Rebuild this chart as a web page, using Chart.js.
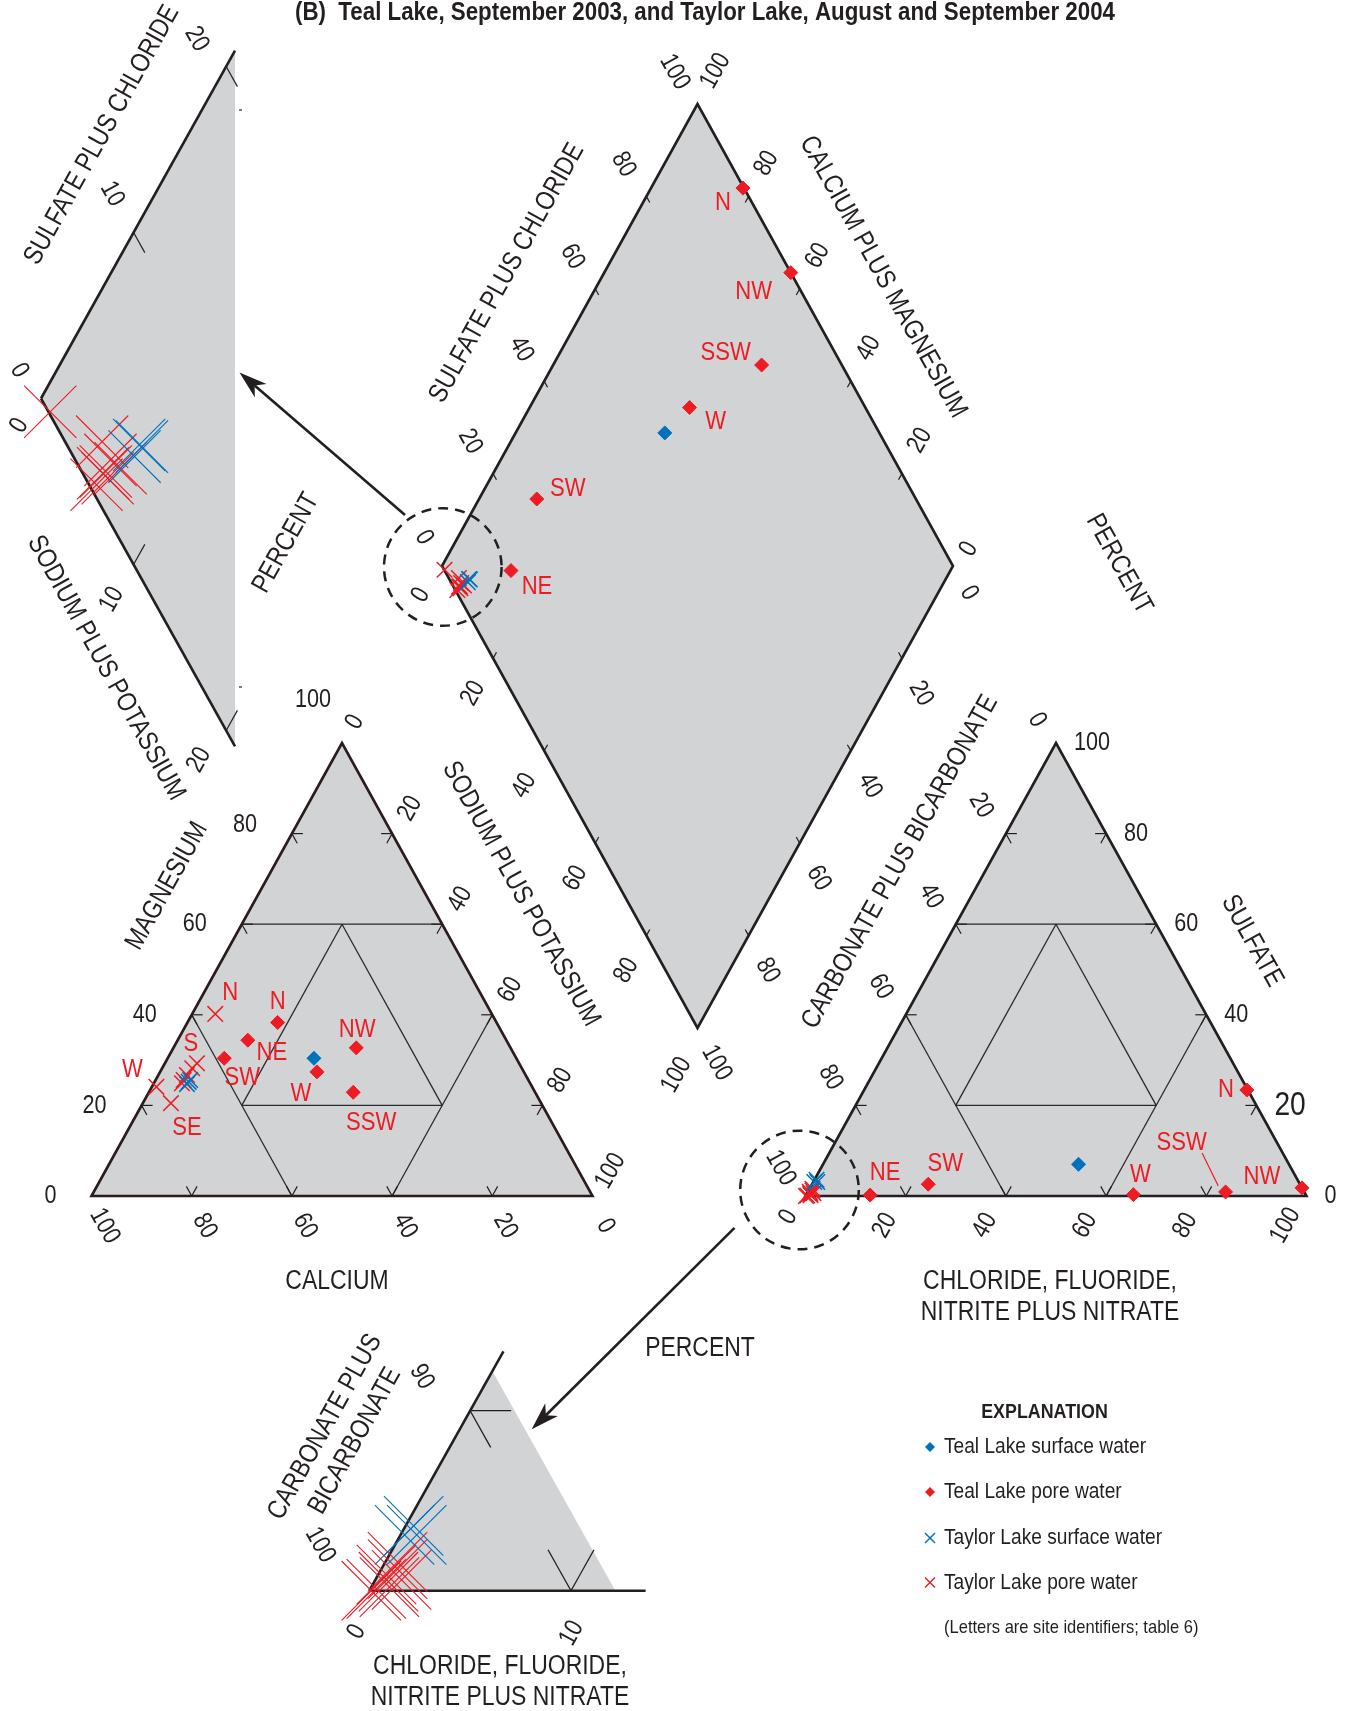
<!DOCTYPE html>
<html>
<head>
<meta charset="utf-8">
<title>Piper diagram — Teal Lake and Taylor Lake</title>
<script src="https://cdn.jsdelivr.net/npm/chart.js@4.4.1/dist/chart.umd.min.js"></script>
<style>
  html, body { margin: 0; padding: 0; background: #ffffff; }
  #wrap { width: 1350px; height: 1711px; position: relative; }
</style>
</head>
<body>
<div id="wrap"><canvas id="piper" width="1350" height="1711"></canvas></div>
<script>
// ---------------------------------------------------------------------------
// Major-ion composition, percent of total milliequivalents per liter
// ---------------------------------------------------------------------------

// Teal Lake pore water, September 2003
const tealPoreSites = ['N', 'NE', 'SW', 'W', 'NW', 'SSW'];
const tealPoreCa  = [43.7, 51.6, 58.3, 41.3, 30.8, 36.3];
const tealPoreMg  = [38.3, 34.4, 30.4, 27.4, 32.7, 22.9];
const tealPoreNaK = [18.0, 14.0, 11.3, 31.3, 36.5, 40.8];
const tealPoreCO3 = [0.2, 87.0, 74.2, 34.4, 0.0, 15.7];
const tealPoreSO4 = [23.4, 0.2, 2.6, 0.3, 1.8, 0.9];
const tealPoreCl  = [76.4, 12.8, 23.2, 65.3, 98.2, 83.4];

// Teal Lake surface water, September 2003
const tealSurfSites = [''];
const tealSurfCa  = [40.4];
const tealSurfMg  = [30.4];
const tealSurfNaK = [29.2];
const tealSurfCO3 = [42.0];
const tealSurfSO4 = [7.0];
const tealSurfCl  = [51.0];

// Taylor Lake pore water, August and September 2004
const taylorPoreSites = ['N', 'S', 'S', 'S', 'S', 'S', 'W', 'SE'];
const taylorPoreCa  = [55.2, 64.3, 65.8, 67.6, 68.8, 69.5, 75.0, 73.9];
const taylorPoreMg  = [40.2, 29.3, 28.2, 26.7, 25.6, 24.9, 24.1, 20.5];
const taylorPoreNaK = [4.6, 6.4, 6.0, 5.7, 5.6, 5.6, 0.9, 5.6];
const taylorPoreCO3 = [98.0, 97.8, 98.8, 98.7, 98.9, 99.6, 99.9, 98.1];
const taylorPoreSO4 = [1.2, 1.6, 0.5, 0.9, 0.2, 0.1, 0.0, 0.6];
const taylorPoreCl  = [0.8, 0.6, 0.7, 0.4, 0.9, 0.3, 0.1, 1.3];

// Taylor Lake surface water, August and September 2004
const taylorSurfSites = ['', '', ''];
const taylorSurfCa  = [68.0, 68.6, 67.5];
const taylorSurfMg  = [25.2, 24.7, 25.6];
const taylorSurfNaK = [6.8, 6.7, 6.9];
const taylorSurfCO3 = [96.7, 96.1, 96.0];
const taylorSurfSO4 = [3.1, 3.1, 3.6];
const taylorSurfCl  = [0.2, 0.8, 0.4];

// Tick values along every percent axis
const pctTicks = [0, 20, 40, 60, 80, 100];

// ---------------------------------------------------------------------------
// Layout of the diagram (drawing units = canvas pixels)
// ---------------------------------------------------------------------------
const INK = '#231F20', GREY = '#D1D3D4', RED = '#ED1C24', BLUE = '#0072BC';
const FONT = '"Liberation Sans", Arimo, Arial, sans-serif';
const BASE_Y = 1196, TRI_S = 501, TRI_H = 453;
const CAT = { x: 91.5, y: BASE_Y };                 // calcium corner of cation triangle
const AN  = { x: 805.5, y: BASE_Y };                // carbonate corner of anion triangle
const DIA = { x: 442, y: 566, hw: 255.5, hh: 462 }; // left corner of the diamond
const ZA  = { x: 41, y: 398.5, dx: 9.26, dy: 16.6, xmax: 235 };  // enlarged diamond corner
const ZB  = { x: 369.3, y: 1590.7, dx: 20.17, dy: 18.0 };         // enlarged anion corner

const catXY = (ca, mg, na) => ({ x: CAT.x + TRI_S * (na + mg / 2) / 100, y: CAT.y - TRI_H * mg / 100 });
const anXY  = (co3, so4, cl) => ({ x: AN.x + TRI_S * (cl + so4 / 2) / 100, y: AN.y - TRI_H * so4 / 100 });
const diaXY = (a, n) => ({ x: DIA.x + DIA.hw * (a + n) / 100, y: DIA.y + DIA.hh * (n - a) / 100 });
const zaXY  = (a, n) => ({ x: ZA.x + ZA.dx * (a + n), y: ZA.y + ZA.dy * (n - a) });
const zbXY  = (co3, so4, cl) => ({ x: ZB.x + ZB.dx * (cl + so4 / 2), y: ZB.y - ZB.dy * so4 });

const groups = {
  tealPore:   { sites: tealPoreSites, ca: tealPoreCa, mg: tealPoreMg, na: tealPoreNaK, co3: tealPoreCO3, so4: tealPoreSO4, cl: tealPoreCl },
  tealSurf:   { sites: tealSurfSites, ca: tealSurfCa, mg: tealSurfMg, na: tealSurfNaK, co3: tealSurfCO3, so4: tealSurfSO4, cl: tealSurfCl },
  taylorSurf: { sites: taylorSurfSites, ca: taylorSurfCa, mg: taylorSurfMg, na: taylorSurfNaK, co3: taylorSurfCO3, so4: taylorSurfSO4, cl: taylorSurfCl },
  taylorPore: { sites: taylorPoreSites, ca: taylorPoreCa, mg: taylorPoreMg, na: taylorPoreNaK, co3: taylorPoreCO3, so4: taylorPoreSO4, cl: taylorPoreCl }
};
const proj = {
  cat: (g, i) => catXY(g.ca[i], g.mg[i], g.na[i]),
  an:  (g, i) => anXY(g.co3[i], g.so4[i], g.cl[i]),
  dia: (g, i) => diaXY(g.so4[i] + g.cl[i], g.na[i]),
  za:  (g, i) => zaXY(g.so4[i] + g.cl[i], g.na[i]),
  zb:  (g, i) => zbXY(g.co3[i], g.so4[i], g.cl[i])
};
const series = (g, p) => g.ca.map((_, i) => proj[p](g, i));

// Site-label placement relative to each marker
const LABEL_OFFSETS = {
  'tealPore-cat': { 0: [0, -21], 1: [24, 13], 2: [18, 20], 3: [-16, 22], 4: [1, -18], 5: [18, 31] },
  'tealPore-dia': { 0: [-20, 15], 1: [26, 16], 2: [31, -10], 3: [26, 14], 4: [-37, 19], 5: [-36, -12] },
  'tealPore-an':  { 0: [-21, 0], 1: [15, -22], 2: [17, -20], 3: [7, -20], 4: [-40, -11], 5: [-44, -49] },
  'taylorPore-cat': { 0: [15, -21], 1: [-6, -19], 6: [-24, -17], 7: [16, 25] }
};
const LEADERS = { 'tealPore-an': { 5: [[-23.5, -38.9], [-7.4, -6.2]] } };

const diamondStyle = (c) => ({ pointStyle: 'rectRot', pointRadius: 7, pointBackgroundColor: c, pointBorderColor: c, pointBorderWidth: 1 });
const crossStyle = (c, r, w) => ({ pointStyle: 'crossRot', pointRadius: r, pointBackgroundColor: c, pointBorderColor: c, pointBorderWidth: w });

const datasets = [];
function addSet(label, tag, data, style) {
  datasets.push(Object.assign({ label, tag, data, showLine: false, clip: false }, style));
}
// listed top-most first
['cat', 'dia', 'an'].forEach(p => addSet('Teal Lake pore water', 'tealPore-' + p, series(groups.tealPore, p), diamondStyle(RED)));
['cat', 'dia', 'an'].forEach(p => addSet('Teal Lake surface water', 'tealSurf-' + p, series(groups.tealSurf, p), diamondStyle(BLUE)));
['cat', 'dia', 'an'].forEach(p => addSet('Taylor Lake surface water', 'taylorSurf-' + p, series(groups.taylorSurf, p), crossStyle(BLUE, 11, 1.5)));
addSet('Taylor Lake surface water', 'taylorSurf-za', series(groups.taylorSurf, 'za'), crossStyle(BLUE, 37, 1.1));
addSet('Taylor Lake surface water', 'taylorSurf-zb', series(groups.taylorSurf, 'zb'), crossStyle(BLUE, 42, 1.1));
['cat', 'dia', 'an'].forEach(p => addSet('Taylor Lake pore water', 'taylorPore-' + p, series(groups.taylorPore, p), crossStyle(RED, 11, 1.5)));
addSet('Taylor Lake pore water', 'taylorPore-za', series(groups.taylorPore, 'za'), crossStyle(RED, 37, 1.1));
addSet('Taylor Lake pore water', 'taylorPore-zb', series(groups.taylorPore, 'zb'), crossStyle(RED, 42, 1.1));

// ---------------------------------------------------------------------------
// Drawing helpers
// ---------------------------------------------------------------------------
function txt(ctx, s, x, y, o) {
  o = o || {};
  ctx.save();
  ctx.translate(x, y);
  if (o.rot) ctx.rotate(o.rot * Math.PI / 180);
  ctx.font = (o.bold ? 'bold ' : '') + (o.size || 26) + 'px ' + FONT;
  let sx = o.sx || 0.84;
  if (o.width) sx = o.width / ctx.measureText(s).width;
  ctx.scale(sx, 1);
  ctx.fillStyle = o.color || INK;
  ctx.textAlign = o.align || 'center';
  ctx.textBaseline = o.baseline || 'middle';
  ctx.fillText(s, 0, 0);
  ctx.restore();
}

function makeP(chart) {
  const X = chart.scales.x, Y = chart.scales.y;
  return (p) => [X.getPixelForValue(p.x), Y.getPixelForValue(p.y)];
}

function poly(ctx, pts, fill, stroke, lw) {
  ctx.beginPath();
  pts.forEach((q, i) => i ? ctx.lineTo(q[0], q[1]) : ctx.moveTo(q[0], q[1]));
  ctx.closePath();
  if (fill) { ctx.fillStyle = fill; ctx.fill(); }
  if (stroke) { ctx.strokeStyle = stroke; ctx.lineWidth = lw; ctx.lineJoin = 'miter'; ctx.stroke(); }
}

function seg(ctx, a, b, lw, color) {
  ctx.beginPath();
  ctx.moveTo(a[0], a[1]);
  ctx.lineTo(b[0], b[1]);
  ctx.strokeStyle = color || INK;
  ctx.lineWidth = lw;
  ctx.stroke();
}

// short mark from point a toward point b, fixed length
function tick(ctx, a, b, len, lw) {
  const dx = b[0] - a[0], dy = b[1] - a[1], L = Math.hypot(dx, dy);
  seg(ctx, a, [a[0] + dx / L * len, a[1] + dy / L * len], lw);
}

function arrow(ctx, a, b) {
  const dx = b[0] - a[0], dy = b[1] - a[1], L = Math.hypot(dx, dy);
  const ux = dx / L, uy = dy / L, nx = -uy, ny = ux;
  const len = 28, half = 9, notch = 20;
  seg(ctx, a, [b[0] - ux * notch, b[1] - uy * notch], 2.6);
  ctx.beginPath();
  ctx.moveTo(b[0], b[1]);
  ctx.lineTo(b[0] - ux * len + nx * half, b[1] - uy * len + ny * half);
  ctx.lineTo(b[0] - ux * notch, b[1] - uy * notch);
  ctx.lineTo(b[0] - ux * len - nx * half, b[1] - uy * len - ny * half);
  ctx.closePath();
  ctx.fillStyle = INK;
  ctx.fill();
}

// ternary triangle: t(a, b, c) with a at lower-left, b at top, c at lower-right
function ternary(ctx, P, t, frameColor) {
  const A = P(t(100, 0, 0)), B = P(t(0, 100, 0)), C = P(t(0, 0, 100));
  poly(ctx, [A, B, C], GREY);
  const L = (p, q) => seg(ctx, P(t(...p)), P(t(...q)), 1.3, '#2a2a2a');
  L([40, 60, 0], [0, 60, 40]);
  L([60, 20, 20], [20, 20, 60]);
  L([60, 40, 0], [60, 0, 40]);
  L([0, 40, 60], [40, 0, 60]);
  L([20, 60, 20], [60, 20, 20]);
  L([20, 60, 20], [20, 20, 60]);
  [20, 40, 60, 80].forEach(v => {
    const pb = P(t(100 - v, 0, v));
    tick(ctx, pb, P(t(100 - v, 10, v - 10)), 11, 1.2);
    tick(ctx, pb, P(t(90 - v, 10, v)), 11, 1.2);
    const pl = P(t(100 - v, v, 0));
    tick(ctx, pl, P(t(90 - v, v, 10)), 11, 1.2);
    tick(ctx, pl, P(t(100 - v, v - 10, 10)), 11, 1.2);
    const pr = P(t(0, v, 100 - v));
    tick(ctx, pr, P(t(10, v, 90 - v)), 11, 1.2);
    tick(ctx, pr, P(t(10, v - 10, 100 - v)), 11, 1.2);
  });
  poly(ctx, [A, B, C], null, frameColor, 2.6);
}

// ---------------------------------------------------------------------------
// Frames, grids, insets and annotation
// ---------------------------------------------------------------------------
const piperFrame = {
  id: 'piperFrame',
  beforeDatasetsDraw(chart) {
    const ctx = chart.ctx, P = makeP(chart);
    ctx.save();
    ctx.lineCap = 'butt';

    ternary(ctx, P, catXY, '#2b1b1c');
    ternary(ctx, P, anXY, INK);

    // central diamond
    const DL = P(diaXY(0, 0)), DT = P(diaXY(100, 0)), DR = P(diaXY(100, 100)), DB = P(diaXY(0, 100));
    poly(ctx, [DL, DT, DR, DB], GREY);
    [20, 40, 60, 80].forEach(v => {
      tick(ctx, P(diaXY(v, 0)), P(diaXY(v, 10)), 7, 1.2);
      tick(ctx, P(diaXY(0, v)), P(diaXY(10, v)), 7, 1.2);
      tick(ctx, P(diaXY(100, v)), P(diaXY(90, v)), 7, 1.2);
      tick(ctx, P(diaXY(v, 100)), P(diaXY(v, 90)), 7, 1.2);
    });
    poly(ctx, [DL, DT, DR, DB], null, INK, 2.6);

    // enlarged left corner of the diamond
    const aEnd = (ZA.xmax - ZA.x) / ZA.dx;
    const ZV = P(zaXY(0, 0)), ZU = P(zaXY(aEnd, 0)), ZD = P(zaXY(0, aEnd));
    poly(ctx, [ZV, ZU, ZD], GREY);
    [10, 20].forEach(v => {
      tick(ctx, P(zaXY(v, 0)), P(zaXY(v, 1)), 23, 1.2);
      tick(ctx, P(zaXY(0, v)), P(zaXY(1, v)), 23, 1.2);
    });
    seg(ctx, ZV, ZU, 2.6);
    seg(ctx, ZV, ZD, 2.6);
    const zt1 = P({ x: ZA.xmax + 4, y: 110 }), zt2 = P({ x: ZA.xmax + 4, y: 687 });
    seg(ctx, zt1, [zt1[0] + 3, zt1[1]], 1.2);
    seg(ctx, zt2, [zt2[0] + 3, zt2[1]], 1.2);

    // enlarged carbonate corner of the anion triangle
    const BV = P(zbXY(100, 0, 0));
    poly(ctx, [BV, P(zbXY(0, 12.2, 0)), P(zbXY(0, 0, 12.2))], GREY);
    const s10 = P(zbXY(90, 10, 0));
    tick(ctx, s10, P(zbXY(89, 10, 1)), 41, 1.3);
    tick(ctx, s10, P(zbXY(90, 9, 1)), 42, 1.3);
    const c10 = P(zbXY(90, 0, 10));
    tick(ctx, c10, P(zbXY(90, 1, 9)), 47, 1.3);
    tick(ctx, c10, P(zbXY(89, 1, 10)), 47, 1.3);
    seg(ctx, BV, P(zbXY(0, 13.3, 0)), 2.6);
    seg(ctx, BV, P(zbXY(0, 0, 13.7)), 2.6);
    ctx.restore();
  },

  afterDatasetsDraw(chart) {
    const ctx = chart.ctx, P = makeP(chart);
    const X = chart.scales.x;
    ctx.save();

    // dashed circles marking the enlarged areas, with pointers
    ctx.setLineDash([10, 7]);
    [[442.8, 567, 58.8], [799.5, 1190, 59.3]].forEach(([cx, cy, r]) => {
      const c = P({ x: cx, y: cy });
      const rp = X.getPixelForValue(cx + r) - X.getPixelForValue(cx);
      ctx.beginPath();
      ctx.arc(c[0], c[1], rp, 0, Math.PI * 2);
      ctx.strokeStyle = INK;
      ctx.lineWidth = 2.5;
      ctx.stroke();
    });
    ctx.setLineDash([]);
    arrow(ctx, P({ x: 405, y: 515 }), P({ x: 239.5, y: 372.5 }));
    arrow(ctx, P({ x: 734.5, y: 1227.8 }), P({ x: 531.7, y: 1429.3 }));

    const T = (s, x, y, o) => { const q = P({ x, y }); txt(ctx, s, q[0], q[1], o); };
    const AX = { size: 27, sx: 0.85 };
    const R = (rot, extra) => Object.assign({}, AX, { rot }, extra || {});

    // heading
    T('(B)  Teal Lake, September 2003, and Taylor Lake, August and September 2004', 705, 20,
      { size: 25, bold: true, width: 820, baseline: 'alphabetic' });

    // axis titles
    T('CALCIUM', 337, 1282, R(0));
    T('MAGNESIUM', 167, 886, R(-61));
    T('SODIUM PLUS POTASSIUM', 521, 894, R(61));
    T('SULFATE PLUS CHLORIDE', 507, 273, R(-61));
    T('CALCIUM PLUS MAGNESIUM', 883, 277, R(61));
    T('PERCENT', 1119, 564, R(61));
    T('PERCENT', 286, 543, R(-61));
    T('PERCENT', 700, 1349, R(0));
    T('CARBONATE PLUS BICARBONATE', 900, 862, R(-61));
    T('SULFATE', 1252, 941, R(61));
    T('CHLORIDE, FLUORIDE,', 1050, 1282, R(0));
    T('NITRITE PLUS NITRATE', 1050, 1313, R(0));
    T('SULFATE PLUS CHLORIDE', 102, 135, R(-61));
    T('SODIUM PLUS POTASSIUM', 106, 668, R(61));
    T('CARBONATE PLUS', 325, 1427, R(-61));
    T('BICARBONATE', 355, 1441, R(-61));
    T('CHLORIDE, FLUORIDE,', 500, 1667, R(0));
    T('NITRITE PLUS NITRATE', 500, 1698, R(0));

    // percent tick labels
    const NUM = { size: 26, sx: 0.83 };
    const put = (v, p, off, rot, extra) =>
      T(String(v), p.x + off[0], p.y + off[1], Object.assign({ rot }, NUM, extra || {}));
    pctTicks.forEach(v => {
      put(v, catXY(v, 0, 100 - v), [13, 30], 61);
      put(v, catXY(0, 100 - v, v), v === 0 ? [13, -21] : [18, -25], -61);
      if (v < 100) put(v, catXY(100 - v, v, 0), [-35, v === 80 ? -9 : 0], 0, { align: 'right' });
      else put(v, catXY(0, 100, 0), [-29, -43], 0);

      put(v, anXY(v, 100 - v, 0), v === 0 ? [-19, -23] : [-25, -28], 61);
      put(v, anXY(100 - v, 0, v), v === 0 ? [-17, 21] : [-21, 29.5], -61);
      put(v, anXY(0, v, 100 - v), [18, 0], 0, { align: 'left', size: v === 20 ? 34 : 26 });

      put(v, diaXY(v, 0), v === 0 ? [-18, -28.5] : [-23, -32], 61);
      put(v, diaXY(100, 100 - v), v === 0 ? [16, -17] : [18, -33], -61);
      put(v, diaXY(0, v), v === 0 ? [-21, 29] : (v === 100 ? [-21, 47] : [-20, 35]), -61);
      put(v, diaXY(100 - v, 100), v === 0 ? [16, 27] : [19, 35], 61);
    });
    // enlarged-corner tick labels
    T('20', 196.5, 39, Object.assign({ rot: 61 }, NUM));
    T('10', 112, 194, Object.assign({ rot: 61 }, NUM));
    T('0', 19.3, 370.6, Object.assign({ rot: 61 }, NUM));
    T('0', 19.3, 425.4, Object.assign({ rot: -61 }, NUM));
    T('10', 111.7, 599.5, Object.assign({ rot: -61 }, NUM));
    T('20', 199, 760, Object.assign({ rot: -61 }, NUM));
    T('90', 421.7, 1376.7, Object.assign({ rot: 61 }, NUM));
    T('100', 320, 1545, Object.assign({ rot: 61 }, NUM));
    T('0', 356.7, 1631.7, Object.assign({ rot: -61 }, NUM));
    T('10', 571.7, 1633.3, Object.assign({ rot: -61 }, NUM));

    // site identifiers next to their markers
    chart.data.datasets.forEach((ds, di) => {
      const offs = LABEL_OFFSETS[ds.tag];
      if (!offs) return;
      const meta = chart.getDatasetMeta(di);
      const g = groups[ds.tag.split('-')[0]];
      Object.keys(offs).forEach(k => {
        const el = meta.data[+k];
        if (!el) return;
        const o = offs[k];
        txt(ctx, g.sites[+k], el.x + o[0], el.y + o[1], { size: 26, sx: 0.85, color: RED });
        const lead = LEADERS[ds.tag] && LEADERS[ds.tag][k];
        if (lead) seg(ctx, [el.x + lead[0][0], el.y + lead[0][1]], [el.x + lead[1][0], el.y + lead[1][1]], 1.2, RED);
      });
    });

    // explanation
    T('EXPLANATION', 1044.5, 1412, { size: 21, bold: true, sx: 0.85 });
    const rows = [
      ['Teal Lake surface water', 'diamond', BLUE, 1447],
      ['Teal Lake pore water', 'diamond', RED, 1492],
      ['Taylor Lake surface water', 'cross', BLUE, 1538],
      ['Taylor Lake pore water', 'cross', RED, 1582.5]
    ];
    rows.forEach(([label, kind, color, y]) => {
      const c = P({ x: 930, y });
      if (kind === 'diamond') {
        ctx.beginPath();
        ctx.moveTo(c[0] - 5, c[1]); ctx.lineTo(c[0], c[1] - 5); ctx.lineTo(c[0] + 5, c[1]); ctx.lineTo(c[0], c[1] + 5);
        ctx.closePath();
        ctx.fillStyle = color; ctx.fill();
      } else {
        seg(ctx, [c[0] - 5, c[1] - 5], [c[0] + 5, c[1] + 5], 1.4, color);
        seg(ctx, [c[0] - 5, c[1] + 5], [c[0] + 5, c[1] - 5], 1.4, color);
      }
      T(label, 944, y, { size: 22, sx: 0.87, align: 'left' });
    });
    T('(Letters are site identifiers; table 6)', 944, 1628, { size: 19, sx: 0.87, align: 'left' });
    ctx.restore();
  }
};

new Chart(document.getElementById('piper'), {
  type: 'scatter',
  data: { datasets },
  options: {
    responsive: false,
    devicePixelRatio: 1,
    animation: false,
    events: [],
    layout: { padding: 0, autoPadding: false },
    plugins: { legend: { display: false }, tooltip: { enabled: false }, title: { display: false } },
    scales: {
      x: { type: 'linear', min: 0, max: 1350, display: false },
      y: { type: 'linear', min: 0, max: 1711, reverse: true, display: false }
    }
  },
  plugins: [piperFrame]
});
</script>
</body>
</html>
